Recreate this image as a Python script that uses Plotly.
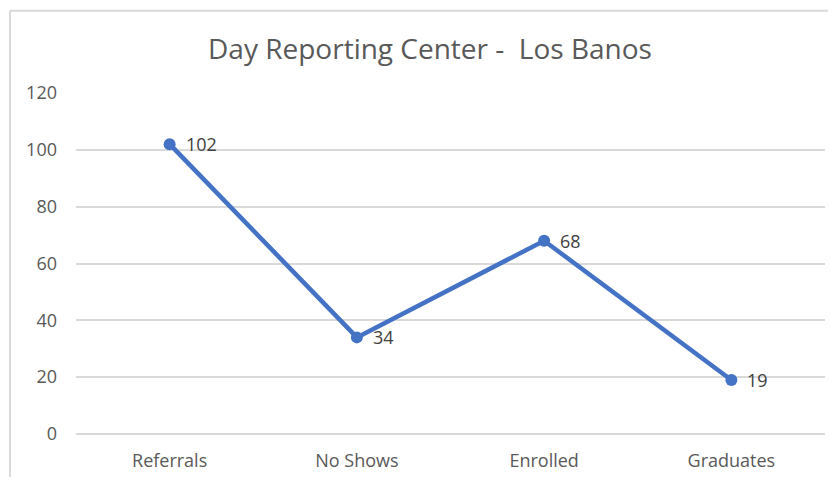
import plotly.graph_objects as go

categories = ["Referrals", "No Shows", "Enrolled", "Graduates"]
values = [102, 34, 68, 19]
title_text = "Day Reporting Center -  Los Banos"

# page has 8px body margin; figure sized to fit the window
W, H = 828, 475
L, R, T, B = 68, 11, 85, 46
pw = W - L - R
ph = H - T - B
FONT = "Open Sans, sans-serif"

fig = go.Figure()
fig.add_trace(go.Scatter(
    x=categories, y=values, mode="lines+markers",
    line=dict(color="#4472C4", width=4.5),
    marker=dict(color="#4472C4", size=12),
    cliponaxis=False, showlegend=False,
))
for c, v in zip(categories, values):
    fig.add_annotation(x=c, y=v, text=str(v), showarrow=False, xanchor="left",
                       yanchor="middle", xshift=14,
                       font=dict(family=FONT, size=18, color="#404040"))

# chart border (left and top visible, rest cropped)
x_left = (2 - L) / pw
y_top = 1 + (T - 2) / ph
y_bot = -(472 - T - ph) / ph
fig.add_shape(type="line", xref="paper", yref="paper", x0=x_left, x1=(W - L) / pw,
              y0=y_top, y1=y_top, line=dict(color="#d9d9d9", width=2))
fig.add_shape(type="line", xref="paper", yref="paper", x0=x_left, x1=x_left,
              y0=y_top, y1=y_bot, line=dict(color="#d9d9d9", width=2))

fig.update_layout(
    width=W, height=H,
    margin=dict(l=L, r=R, t=T, b=B),
    paper_bgcolor="white", plot_bgcolor="white",
    title=dict(text=title_text, x=(422 - L) / pw, xref="paper", xanchor="center",
               y=1 - 41 / H, yanchor="middle",
               font=dict(family=FONT, size=28, color="#595959")),
    xaxis=dict(range=[-0.5, 3.5], showgrid=False, showline=False, zeroline=False,
               ticks="", ticklabelstandoff=14,
               tickfont=dict(family=FONT, size=18, color="#595959")),
    yaxis=dict(range=[0, 120], dtick=20, showgrid=True, gridcolor="#d9d9d9", gridwidth=1.5,
               zeroline=True, zerolinecolor="#d9d9d9", zerolinewidth=1.5, showline=False,
               ticks="", ticklabelstandoff=18,
               tickfont=dict(family=FONT, size=18, color="#595959")),
)
fig.write_html("out.html")
